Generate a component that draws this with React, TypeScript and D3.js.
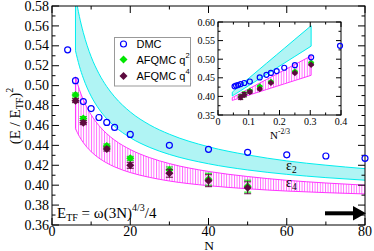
import React from 'react';
import * as d3 from 'd3';

// ---- data ----
const dmcN = [4, 6, 8, 10, 12, 14, 16, 20, 30, 40, 50, 60, 70, 80];
const dmcE = [0.536, 0.505, 0.484, 0.477, 0.468, 0.463, 0.458, 0.451, 0.44, 0.436, 0.433, 0.4305, 0.4293, 0.427];

const afqN = [6, 8, 14, 20, 30, 40, 50];
const q2E = [0.4906, 0.467, 0.4394, 0.427, 0.4153, 0.406, 0.399];
const q2Err = [0.002, 0.002, 0.002, 0.002, 0.003, 0.006, 0.006];
const q4E = [0.4849, 0.4628, 0.4363, 0.42, 0.412, 0.4045, 0.3974];
const q4Err = [0.002, 0.002, 0.002, 0.003, 0.004, 0.006, 0.006];

// extrapolation bands (epsilon_2 cyan, epsilon_4 hatched magenta)
const bandN = [6, 7, 8, 9, 10, 12, 14, 16, 20, 25, 30, 40, 50, 60, 70, 80, 90, 100];
const cyanUp = [0.59, 0.5695, 0.5533, 0.5401, 0.5291, 0.512, 0.499, 0.4888, 0.4736, 0.4605, 0.4512, 0.4386, 0.4304, 0.4244, 0.4201, 0.4166, 0.4137, 0.4113];
const cyanLo = [0.5351, 0.5196, 0.5075, 0.4976, 0.4894, 0.4765, 0.4667, 0.4591, 0.4477, 0.4379, 0.4309, 0.4215, 0.4153, 0.4109, 0.4076, 0.405, 0.4028, 0.401];
const pinkUp = [0.5089, 0.496, 0.4858, 0.4775, 0.4707, 0.4599, 0.4517, 0.4453, 0.4358, 0.4276, 0.4217, 0.4138, 0.4087, 0.4049, 0.4022, 0.4, 0.3982, 0.3967];
const pinkLo = [0.4567, 0.4489, 0.4428, 0.4378, 0.4337, 0.4272, 0.4223, 0.4184, 0.4127, 0.4078, 0.4042, 0.3995, 0.3964, 0.3941, 0.3925, 0.3912, 0.3901, 0.3892];

const mainXTicks = [0, 20, 40, 60, 80];
const mainYTicks = [0.36, 0.38, 0.4, 0.42, 0.44, 0.46, 0.48, 0.5, 0.52, 0.54, 0.56, 0.58];
const insetXTicks = [0, 0.1, 0.2, 0.3, 0.4];
const insetYTicks = [0.35, 0.4, 0.45, 0.5, 0.55, 0.6];

const BLUE = '#0000ff';
const GREEN = '#00e600';
const PURPLE = '#5c0a3e';
const CYANF = '#b0f4f4';
const CYANS = '#00eeee';
const MAG = '#ff33ff';
const SERIF = '"Liberation Serif", "Times New Roman", serif';
const SANS = '"Liberation Sans", Arial, sans-serif';

function diamond(x: number, y: number, h: number) {
  return `M${x},${y - h}L${x + h},${y}L${x},${y + h}L${x - h},${y}Z`;
}

export default function App() {
  const xM = d3.scaleLinear().domain([0, 80]).range([52, 365]);
  const yM = d3.scaleLinear().domain([0.36, 0.58]).range([225, 6]);
  const xI = d3.scaleLinear().domain([0, 0.4]).range([218, 341]);
  const yI = d3.scaleLinear().domain([0.35, 0.6]).range([115, 22]);
  const tr = (n: number) => Math.pow(n, -2 / 3);

  const areaMain = (lo: number[], up: number[]) =>
    d3.area<number>()
      .x((d) => xM(d))
      .y0((_, i) => yM(lo[i]))
      .y1((_, i) => yM(up[i]))
      .curve(d3.curveMonotoneX)(bandN) || '';
  const areaIn = (lo: number[], up: number[]) =>
    d3.area<number>()
      .x((d) => xI(tr(d)))
      .y0((_, i) => yI(lo[i]))
      .y1((_, i) => yI(up[i]))(bandN) || '';

  const mxMinor = d3.range(0, 81, 10);
  const myMinor = d3.range(0, 23).map((i) => 0.36 + i * 0.01);
  const ixMinor = d3.range(0, 9).map((i) => i * 0.05);
  const iyMinor = d3.range(0, 11).map((i) => 0.35 + i * 0.025);

  const [mx0, mx1] = xM.range();
  const [my0, my1] = yM.range();
  const [ix0, ix1] = xI.range();
  const [iy0, iy1] = yI.range();

  const points = (
    xs: (n: number) => number,
    ys: (e: number) => number,
    r: number,
    h: number,
    cap: number,
    xf: (n: number) => number
  ) => (
    <g>
      {afqN.map((n, i) => (
        <g key={'e2' + i} stroke={GREEN} strokeWidth={1}>
          <line x1={xs(xf(n))} x2={xs(xf(n))} y1={ys(q2E[i] - q2Err[i])} y2={ys(q2E[i] + q2Err[i])} />
          <line x1={xs(xf(n)) - cap} x2={xs(xf(n)) + cap} y1={ys(q2E[i] - q2Err[i])} y2={ys(q2E[i] - q2Err[i])} />
          <line x1={xs(xf(n)) - cap} x2={xs(xf(n)) + cap} y1={ys(q2E[i] + q2Err[i])} y2={ys(q2E[i] + q2Err[i])} />
        </g>
      ))}
      {afqN.map((n, i) => (
        <path key={'g' + i} d={diamond(xs(xf(n)), ys(q2E[i]), h)} fill={GREEN} />
      ))}
      {afqN.map((n, i) => (
        <g key={'e4' + i} stroke={PURPLE} strokeWidth={1}>
          <line x1={xs(xf(n))} x2={xs(xf(n))} y1={ys(q4E[i] - q4Err[i])} y2={ys(q4E[i] + q4Err[i])} />
          <line x1={xs(xf(n)) - cap} x2={xs(xf(n)) + cap} y1={ys(q4E[i] - q4Err[i])} y2={ys(q4E[i] - q4Err[i])} />
          <line x1={xs(xf(n)) - cap} x2={xs(xf(n)) + cap} y1={ys(q4E[i] + q4Err[i])} y2={ys(q4E[i] + q4Err[i])} />
        </g>
      ))}
      {afqN.map((n, i) => (
        <path key={'p' + i} d={diamond(xs(xf(n)), ys(q4E[i]), h)} fill={PURPLE} />
      ))}
      {dmcN.map((n, i) => (
        <circle key={'d' + i} cx={xs(xf(n))} cy={ys(dmcE[i])} r={r} fill="none" stroke={BLUE} strokeWidth={1.2} />
      ))}
    </g>
  );

  return (
    <svg width={374} height={251} style={{ position: 'absolute', left: 0, top: 0, background: '#fff' }}>
      <defs>
        <clipPath id="clipMain">
          <rect x={mx0} y={my1} width={mx1 - mx0} height={my0 - my1} />
        </clipPath>
        <clipPath id="clipIn">
          <rect x={ix0} y={iy1} width={ix1 - ix0} height={iy0 - iy1} />
        </clipPath>
        <pattern id="hatch" width={2.6} height={4} patternUnits="userSpaceOnUse">
          <rect width={2.6} height={4} fill="#fff" />
          <line x1={0.5} x2={0.5} y1={0} y2={4} stroke={MAG} strokeWidth={0.75} />
        </pattern>
      </defs>
      <rect width={374} height={251} fill="#fff" />

      {/* main bands */}
      <g clipPath="url(#clipMain)">
        <path d={areaMain(cyanLo, cyanUp)} fill={CYANF} stroke={CYANS} strokeWidth={1} />
        <path d={areaMain(pinkLo, pinkUp)} fill="url(#hatch)" stroke={MAG} strokeWidth={1} />
      </g>

      {/* main axes ticks */}
      <g stroke="#000" strokeWidth={1}>
        {mxMinor.map((v) => {
          const major = v % 20 === 0;
          const L = major ? 7 : 3.5;
          return (
            <g key={'mx' + v}>
              <line x1={xM(v)} x2={xM(v)} y1={my0} y2={my0 - L} />
              <line x1={xM(v)} x2={xM(v)} y1={my1} y2={my1 + L} />
            </g>
          );
        })}
        {myMinor.map((v, i) => {
          const major = i % 2 === 0;
          const L = major ? 7 : 3.5;
          return (
            <g key={'my' + i}>
              <line x1={mx0} x2={mx0 + L} y1={yM(v)} y2={yM(v)} />
              <line x1={mx1} x2={mx1 - L} y1={yM(v)} y2={yM(v)} />
            </g>
          );
        })}
        <rect x={mx0} y={my1} width={mx1 - mx0} height={my0 - my1} fill="none" />
      </g>

      {/* main points */}
      {points((v) => xM(v), (e) => yM(e), 3, 4, 3.5, (n) => n)}

      {/* main tick labels */}
      <g fontFamily={SERIF} fontSize={14} fill="#000">
        {mainXTicks.map((v) => (
          <text key={'tx' + v} x={xM(v)} y={236} textAnchor="middle">{v}</text>
        ))}
        {mainYTicks.map((v) => (
          <text key={'ty' + v} x={49} y={yM(v) + 4.6} textAnchor="end">{v.toFixed(2)}</text>
        ))}
        <text x={209} y={249.5} textAnchor="middle" fontSize={13.5}>N</text>
        <text transform="translate(20,116) rotate(-90)" textAnchor="middle" fontSize={15}>
          (E / E<tspan fontSize={10} dy={3}>TF</tspan><tspan dy={-3}>)</tspan><tspan fontSize={10} dy={-7}>2</tspan>
        </text>
        <text x={57} y={218} fontSize={15}>
          E<tspan fontSize={10} dy={3}>TF</tspan><tspan dy={-3}> = ω(3N)</tspan><tspan fontSize={10} dy={-7}>4/3</tspan><tspan dy={7}>/4</tspan>
        </text>
        <text x={286} y={169.5} fontSize={14}>ε<tspan fontSize={9.5} dy={3}>2</tspan></text>
        <text x={286} y={187} fontSize={14}>ε<tspan fontSize={9.5} dy={3}>4</tspan></text>
      </g>

      {/* arrow */}
      <line x1={325} x2={356} y1={213.3} y2={213.3} stroke="#000" strokeWidth={4} />
      <path d="M353,206 L366,213.3 L353,220.6 Z" fill="#000" />

      {/* legend */}
      <g>
        <rect x={114.5} y={37.5} width={76} height={48.5} fill="#fff" stroke="#999" strokeWidth={1} />
        <circle cx={123.5} cy={44} r={3} fill="none" stroke={BLUE} strokeWidth={1.2} />
        <path d={diamond(123.5, 59.5, 4)} fill={GREEN} />
        <path d={diamond(123.5, 76, 4)} fill={PURPLE} />
        <g fontFamily={SANS} fontSize={11} fill="#000">
          <text x={136.5} y={48}>DMC</text>
          <text x={136.5} y={63.5}>AFQMC q<tspan fontSize={7.5} dy={-6}>2</tspan></text>
          <text x={136.5} y={80}>AFQMC q<tspan fontSize={7.5} dy={-6}>4</tspan></text>
        </g>
      </g>

      {/* inset */}
      <rect x={ix0} y={iy1} width={ix1 - ix0} height={iy0 - iy1} fill="#fff" />
      <g clipPath="url(#clipIn)">
        <path d={areaIn(cyanLo, cyanUp)} fill={CYANF} stroke={CYANS} strokeWidth={1} />
        <path d={areaIn(pinkLo, pinkUp)} fill="url(#hatch)" stroke={MAG} strokeWidth={1} />
      </g>
      <g stroke="#000" strokeWidth={1}>
        {ixMinor.map((v, i) => {
          const L = i % 2 === 0 ? 5 : 2.5;
          return (
            <g key={'ix' + i}>
              <line x1={xI(v)} x2={xI(v)} y1={iy0} y2={iy0 - L} />
              <line x1={xI(v)} x2={xI(v)} y1={iy1} y2={iy1 + L} />
            </g>
          );
        })}
        {iyMinor.map((v, i) => {
          const L = i % 2 === 0 ? 5 : 2.5;
          return (
            <g key={'iy' + i}>
              <line x1={ix0} x2={ix0 + L} y1={yI(v)} y2={yI(v)} />
              <line x1={ix1} x2={ix1 - L} y1={yI(v)} y2={yI(v)} />
            </g>
          );
        })}
        <rect x={ix0} y={iy1} width={ix1 - ix0} height={iy0 - iy1} fill="none" />
      </g>
      {points((v) => xI(v), (e) => yI(e), 2.5, 3.2, 2.5, tr)}
      <g fontFamily={SERIF} fontSize={10} fill="#000">
        {insetXTicks.map((v) => (
          <text key={'ix' + v} x={xI(v)} y={124.5} textAnchor="middle">{v === 0 ? '0' : String(v)}</text>
        ))}
        {insetYTicks.map((v) => (
          <text key={'iy' + v} x={215} y={yI(v) + 3.5} textAnchor="end">{v.toFixed(2)}</text>
        ))}
        <text x={270} y={138.5} fontSize={11}>N<tspan fontSize={7.5} dy={-5}>-2/3</tspan></text>
      </g>
    </svg>
  );
}
